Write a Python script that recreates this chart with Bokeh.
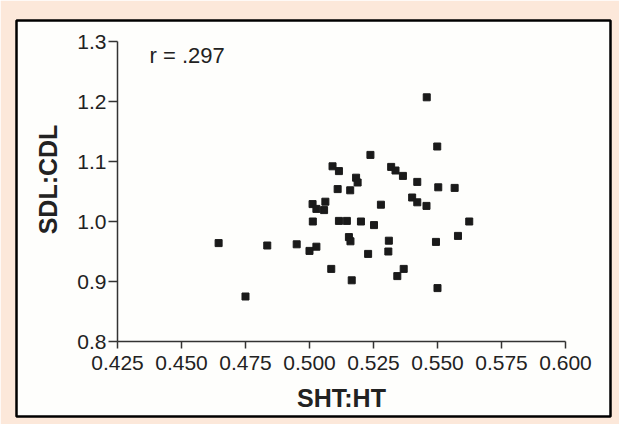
import math
from bokeh.plotting import figure
from bokeh.models import Range1d, LinearAxis, FixedTicker, NumeralTickFormatter, Label
from bokeh.embed import file_html
from bokeh.resources import INLINE

# ---- data ----
sht_ht = [0.4645, 0.4750, 0.4835, 0.4950, 0.5000, 0.5027, 0.5012, 0.5027, 0.5013,
          0.5062, 0.5057, 0.5090, 0.5115, 0.5110, 0.5115, 0.5146, 0.5159, 0.5085,
          0.5154, 0.5160, 0.5165, 0.5182, 0.5188, 0.5201, 0.5238, 0.5229, 0.5252,
          0.5279, 0.5310, 0.5308, 0.5319, 0.5336, 0.5365, 0.5343, 0.5368, 0.5401,
          0.5421, 0.5421, 0.5457, 0.5458, 0.5499, 0.5503, 0.5494, 0.5500, 0.5567,
          0.5580, 0.5624]
sdl_cdl = [0.964, 0.875, 0.960, 0.962, 0.951, 0.958, 1.029, 1.021, 1.000,
           1.033, 1.019, 1.092, 1.084, 1.054, 1.001, 1.001, 1.052, 0.921,
           0.974, 0.967, 0.902, 1.073, 1.065, 1.000, 1.111, 0.946, 0.994,
           1.028, 0.968, 0.950, 1.091, 1.085, 1.076, 0.909, 0.921, 1.040,
           1.066, 1.032, 1.026, 1.207, 1.125, 1.057, 0.966, 0.889, 1.056,
           0.976, 1.000]
x_ticks = [0.425, 0.450, 0.475, 0.500, 0.525, 0.550, 0.575, 0.600]
y_ticks = [0.8, 0.9, 1.0, 1.1, 1.2, 1.3]
x_label = "SHT:HT"
y_label = "SDL:CDL"
r_text = "r = .297"

PEACH = "#FCE8DA"
INK = "#222222"
FONT = "Liberation Sans"

p = figure(width=619, height=424, output_backend="svg", toolbar_location=None,
           x_axis_location=None, y_axis_location=None,
           x_range=Range1d(0.38555, 0.61758), y_range=Range1d(0.675, 1.335),
           min_border_left=16, min_border_right=9, min_border_top=20, min_border_bottom=8)
p.border_fill_color = PEACH
p.background_fill_color = "#FEFEFC"
p.outline_line_color = "black"
p.outline_line_width = 2.5
p.xgrid.visible = False
p.ygrid.visible = False

xa = LinearAxis(fixed_location=y_ticks[0], bounds=(x_ticks[0], x_ticks[-1]),
                ticker=FixedTicker(ticks=x_ticks),
                formatter=NumeralTickFormatter(format="0.000"),
                axis_label=x_label)
ya = LinearAxis(fixed_location=x_ticks[0], bounds=(y_ticks[0], y_ticks[-1]),
                ticker=FixedTicker(ticks=y_ticks),
                formatter=NumeralTickFormatter(format="0.0"))
for ax, tick_out, std, lstd in ((xa, 7, 7, 11), (ya, 9, 2, 12)):
    ax.axis_line_color = "#333333"
    ax.axis_line_width = 1.5
    ax.major_tick_line_color = "#333333"
    ax.major_tick_line_width = 1.5
    ax.major_tick_out = tick_out
    ax.major_tick_in = 0
    ax.minor_tick_out = 0
    ax.minor_tick_in = 0
    ax.major_label_text_font = FONT
    ax.major_label_text_font_size = "21px"
    ax.major_label_text_color = INK
    ax.major_label_standoff = std
    ax.axis_label_text_font = FONT
    ax.axis_label_text_font_size = "25px"
    ax.axis_label_text_font_style = "bold"
    ax.axis_label_text_color = INK
    ax.axis_label_standoff = lstd
p.add_layout(xa, "below")
p.add_layout(ya, "left")

p.scatter(sht_ht, sdl_cdl, marker="square", size=7, fill_color="#1a1a1a",
          line_color="#1a1a1a")

p.add_layout(Label(x=0.398, y=1.07, text=y_label, text_font=FONT,
                   text_font_size="25px", text_font_style="bold", text_color=INK,
                   angle=math.pi / 2, text_align="center", text_baseline="middle"))

p.add_layout(Label(x=0.4375, y=1.277, text=r_text, text_font=FONT,
                   text_font_size="22px", text_color=INK,
                   text_align="left", text_baseline="alphabetic"))

open("out.html", "w").write(file_html(p, INLINE))
